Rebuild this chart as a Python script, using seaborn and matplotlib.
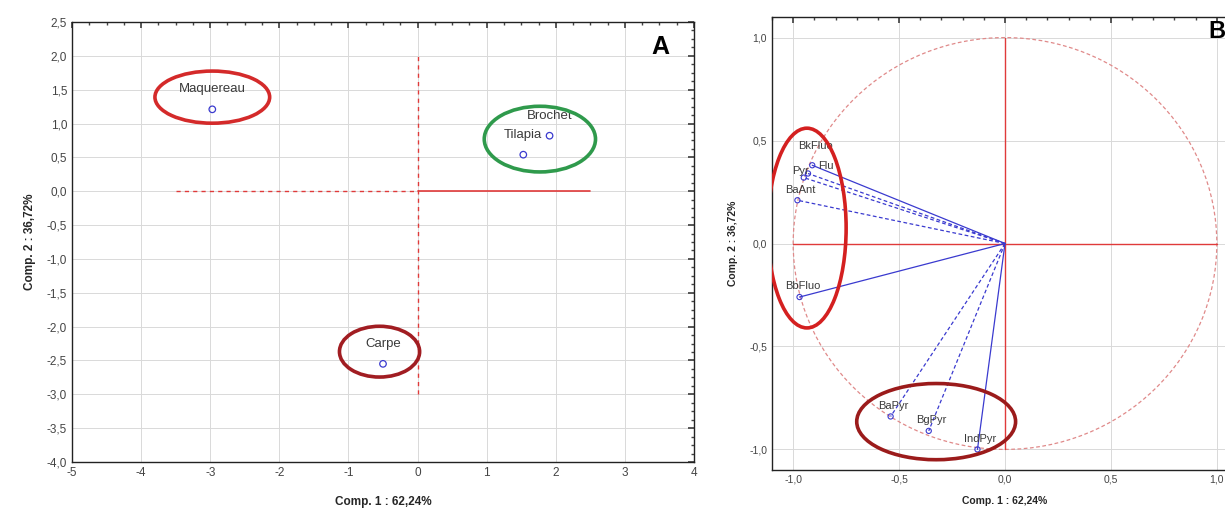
import matplotlib
matplotlib.use("Agg")
import matplotlib.pyplot as plt
from matplotlib.patches import Ellipse, Circle
from matplotlib.ticker import MultipleLocator, FuncFormatter
import seaborn as sns
import pandas as pd

# ---------------- data ----------------
species = ["Maquereau", "Brochet", "Tilapia", "Carpe"]
comp1_species = [-2.97, 1.91, 1.53, -0.50]
comp2_species = [1.21, 0.82, 0.54, -2.55]

variables = ["BkFluo", "Flu", "Pyr", "BaAnt", "BbFluo", "BaPyr", "BgPyr", "IndPyr"]
comp1_vars = [-0.91, -0.93, -0.95, -0.98, -0.97, -0.54, -0.36, -0.13]
comp2_vars = [0.38, 0.34, 0.32, 0.21, -0.26, -0.84, -0.91, -1.00]
var_line_dashed = [False, True, True, True, False, True, True, False]

xlabel_txt = "Comp. 1 : 62,24%"
ylabel_txt = "Comp. 2 : 36,72%"

# ---------------- style ----------------
sns.set_theme(style="white")
plt.rcParams["font.family"] = ["Liberation Sans", "DejaVu Sans"]

fig = plt.figure(figsize=(12.25, 5.12), dpi=100)
axA = fig.add_axes([72 / 1225, 50 / 512, 622 / 1225, 440 / 512])
axB = fig.add_axes([772 / 1225, 42 / 512, 466 / 1225, 453 / 512])

comma = FuncFormatter(lambda v, p: f"{v:.1f}".replace(".", ","))
comma_int = FuncFormatter(lambda v, p: f"{v:.0f}")

grid_kw = dict(color="#d9d9d9", lw=0.7, ls="-")
ref_red = "#e03a3a"
blue = "#3a3acf"

# ---------------- Panel A ----------------
dfA = pd.DataFrame({"c1": comp1_species, "c2": comp2_species, "name": species})
axA.set_xlim(-5, 4)
axA.set_ylim(-4, 2.5)
axA.xaxis.set_major_locator(MultipleLocator(1))
axA.yaxis.set_major_locator(MultipleLocator(0.5))
axA.xaxis.set_minor_locator(MultipleLocator(0.25))
axA.yaxis.set_minor_locator(MultipleLocator(0.125))
axA.xaxis.set_major_formatter(comma_int)
axA.yaxis.set_major_formatter(comma)
axA.grid(True, which="major", **grid_kw)
axA.set_axisbelow(True)

axA.plot([0, 0], [-3.0, 2.0], color=ref_red, lw=1.0, ls=(0, (3, 3)))
axA.plot([-3.5, 0], [0, 0], color=ref_red, lw=1.0, ls=(0, (3, 3)))
axA.plot([0, 2.5], [0, 0], color=ref_red, lw=1.2, ls="-")

sns.scatterplot(data=dfA, x="c1", y="c2", ax=axA, marker="o", s=22,
                facecolor="none", edgecolor=blue, linewidth=0.9, legend=False, zorder=5)
for _, r in dfA.iterrows():
    axA.annotate(r["name"], (r["c1"], r["c2"]), xytext=(0, 10), textcoords="offset points",
                 ha="center", va="bottom", fontsize=9.5, color="#3a3a3a", zorder=6)

axA.add_patch(Ellipse((-2.97, 1.39), 1.66, 0.77, fill=False, ec="#d42a2a", lw=2.6, zorder=7))
axA.add_patch(Ellipse((1.77, 0.77), 1.61, 0.97, fill=False, ec="#2f9a4c", lw=2.6, zorder=7))
axA.add_patch(Ellipse((-0.55, -2.37), 1.16, 0.75, fill=False, ec="#a11d22", lw=2.6, zorder=7))

axA.text(3.52, 2.13, "A", fontsize=18, fontweight="bold", ha="center", va="center", color="black")
axA.set_xlabel(xlabel_txt, fontsize=8.5, fontweight="bold", labelpad=12)
axA.set_ylabel(ylabel_txt, fontsize=8.5, fontweight="bold", labelpad=8)
axA.tick_params(which="both", direction="in", top=True, right=True, labelsize=8.5, colors="#444444")
axA.tick_params(which="major", length=4)
axA.tick_params(which="minor", length=2)
for s in axA.spines.values():
    s.set_color("#222222")
    s.set_linewidth(1.0)

# ---------------- Panel B ----------------
dfB = pd.DataFrame({"c1": comp1_vars, "c2": comp2_vars, "name": variables, "dashed": var_line_dashed})
axB.set_xlim(-1.1, 1.1)
axB.set_ylim(-1.1, 1.1)
axB.xaxis.set_major_locator(MultipleLocator(0.5))
axB.yaxis.set_major_locator(MultipleLocator(0.5))
axB.xaxis.set_minor_locator(MultipleLocator(0.1))
axB.yaxis.set_minor_locator(MultipleLocator(0.1))
axB.xaxis.set_major_formatter(comma)
axB.yaxis.set_major_formatter(comma)
axB.grid(True, which="major", **grid_kw)
axB.set_axisbelow(True)

axB.add_patch(Circle((0, 0), 1.0, fill=False, ec="#e08a8a", lw=0.9, ls=(0, (3, 2))))
axB.plot([0, 0], [-1, 1], color=ref_red, lw=1.0)
axB.plot([-1, 1], [0, 0], color=ref_red, lw=1.0)

for _, r in dfB.iterrows():
    axB.plot([0, r["c1"]], [0, r["c2"]], color=blue, lw=0.9,
             ls=(0, (3, 2)) if r["dashed"] else "-", zorder=4)
sns.scatterplot(data=dfB, x="c1", y="c2", ax=axB, marker="o", s=14,
                facecolor="none", edgecolor=blue, linewidth=0.8, legend=False, zorder=5)
label_offsets = {"BkFluo": (2, 10), "Flu": (13, 2), "Pyr": (-2, 1)}
for _, r in dfB.iterrows():
    off = label_offsets.get(r["name"], (2, 4))
    axB.annotate(r["name"], (r["c1"], r["c2"]), xytext=off, textcoords="offset points",
                 ha="center", va="bottom", fontsize=8, color="#3a3a3a", zorder=6)

axB.add_patch(Ellipse((-0.935, 0.075), 0.37, 0.97, fill=False, ec="#d42020", lw=2.6, zorder=7))
axB.add_patch(Ellipse((-0.325, -0.865), 0.75, 0.37, fill=False, ec="#9b1b1b", lw=2.6, zorder=7))

axB.text(1.0, 1.03, "B", fontsize=17, fontweight="bold", ha="center", va="center", color="black")
axB.set_xlabel(xlabel_txt, fontsize=7.5, fontweight="bold", labelpad=8)
axB.set_ylabel(ylabel_txt, fontsize=7.5, fontweight="bold", labelpad=8)
axB.tick_params(which="both", direction="in", top=True, right=True, labelsize=7.5, colors="#444444")
axB.tick_params(which="major", length=4)
axB.tick_params(which="minor", length=2)
for s in axB.spines.values():
    s.set_color("#222222")
    s.set_linewidth(1.0)

fig.savefig("out.png", dpi=100)
